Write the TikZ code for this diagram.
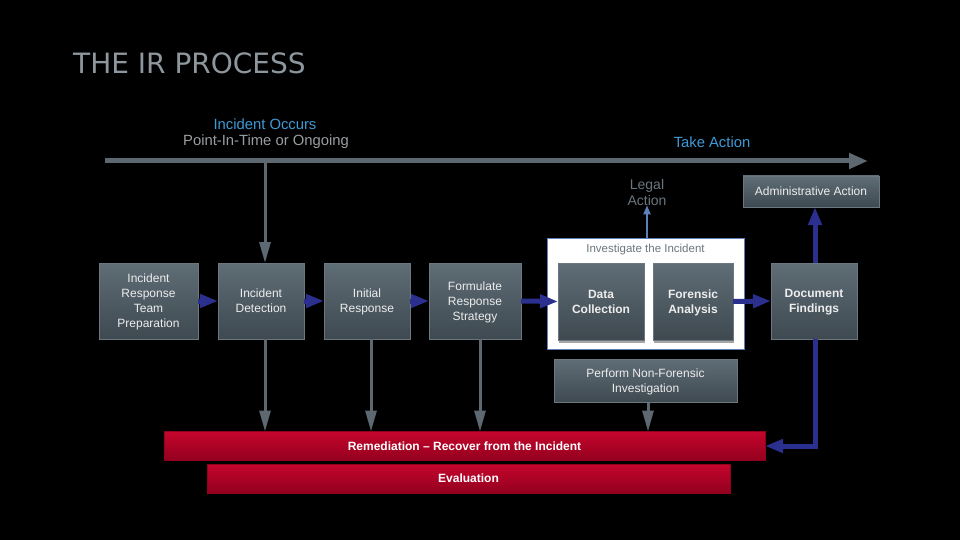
\documentclass[tikz,border=0pt]{standalone}
\usepackage{fontspec}
\setmainfont{Liberation Sans}
\newfontfamily\titlefont{DejaVu Sans}
\usetikzlibrary{arrows.meta,shadows}
\definecolor{boxtop}{HTML}{5F6D76}
\definecolor{boxbot}{HTML}{3E4950}
\definecolor{boxedge}{HTML}{6C7880}
\definecolor{greyline}{HTML}{5D6870}
\definecolor{navy}{HTML}{2B2F8E}
\definecolor{lightblue}{HTML}{5F7FBB}
\definecolor{skyblue}{HTML}{3E9AD6}
\definecolor{redtop}{HTML}{C5052C}
\definecolor{redbot}{HTML}{93001E}
\definecolor{titlegrey}{HTML}{8E979D}
\definecolor{midgrey}{HTML}{9A9EA1}
\definecolor{dimgrey}{HTML}{6B767E}
\tikzset{
  procbox/.style={rectangle, draw=boxedge, line width=0.6pt, top color=boxtop, bottom color=boxbot,
    text=white!93!black, inner sep=0pt, outer sep=0pt, align=center, text depth=-6.5pt,
    font=\fontsize{12}{15}\selectfont},
  boldbox/.style={procbox, font=\fontsize{12}{15}\selectfont\bfseries, text depth=-4.5pt},
  redbar/.style={rectangle, draw=redbot, line width=0.5pt, top color=redtop, bottom color=redbot,
    text=white, inner sep=0pt, outer sep=0pt, text depth=-1pt, font=\fontsize{12}{15}\selectfont\bfseries},
  greyarrow/.style={draw=greyline, line width=3pt, -{Triangle[length=21pt,width=11pt]}},
  bluearrow/.style={draw=navy, line width=5pt, -{Triangle[length=18pt,width=13pt]}},
  toplabel/.style={inner sep=0pt, font=\fontsize{14.8}{17}\selectfont},
}
\begin{document}
\begin{tikzpicture}[x=1pt,y=-1pt]
\fill[black] (0,0) rectangle (960,540);
\useasboundingbox (0,0) rectangle (960,540);

% title
\node[anchor=base west, inner sep=0pt, text=titlegrey, font=\titlefont\fontsize{28}{30}\selectfont] (title) at (73,74) {THE IR PROCESS};

% timeline
\coordinate (tl0) at (105,161);
\coordinate (tl1) at (868,161);
\coordinate (tlD) at (265,161);
\draw[draw=greyline, line width=5pt, -{Triangle[length=19pt,width=15pt]}] (tl0) -- (tl1);

\node[toplabel, text=skyblue] (occurs) at (265,124) {Incident Occurs};
\node[toplabel, text=midgrey] (point) at (266,142) {Point-In-Time or Ongoing};
\node[toplabel, text=skyblue] (take) at (712,142) {Take Action};

% main row
\node[procbox, minimum width=99pt, minimum height=76pt] (prep) at (148.5,301) {Incident\\Response\\Team\\Preparation};
\node[procbox, minimum width=86pt, minimum height=76pt] (detect) at (261,301) {Incident\\Detection};
\node[procbox, minimum width=86pt, minimum height=76pt] (initial) at (367,301) {Initial\\Response};
\node[procbox, minimum width=92pt, minimum height=76pt] (strategy) at (475,301) {Formulate\\Response\\Strategy};

% investigate container
\node[rectangle, draw=lightblue, fill=white, line width=0.8pt, minimum width=197pt, minimum height=111pt, inner sep=0pt] (invest) at (645.5,293.5) {};
\node[text=dimgrey, font=\fontsize{11.5}{13}\selectfont, inner sep=0pt] (investlbl) at (645.5,249.5) {Investigate the Incident};
\node[boldbox, minimum width=86pt, minimum height=77pt, drop shadow={shadow xshift=1pt, shadow yshift=-2.5pt, fill=black!35, opacity=1}] (collect) at (601,301.5) {Data\\Collection};
\node[boldbox, minimum width=80pt, minimum height=77pt, drop shadow={shadow xshift=1pt, shadow yshift=-2.5pt, fill=black!35, opacity=1}] (forensic) at (693,301.5) {Forensic\\Analysis};

\node[boldbox, minimum width=86pt, minimum height=76pt] (findings) at (814,301) {Document\\Findings};

% actions
\node[procbox, minimum width=136pt, minimum height=31pt, text depth=-1pt] (admin) at (811,191.5) {Administrative Action};
\node[text=dimgrey, align=center, font=\fontsize{14}{16}\selectfont, inner sep=0pt] (legal) at (647,192) {Legal\\Action};

% non-forensic
\node[procbox, minimum width=183pt, minimum height=43pt] (nonfor) at (645.5,381) {Perform Non-Forensic\\Investigation};

% red bars
\node[redbar, minimum width=601pt, minimum height=29pt] (remed) at (464.5,446) {Remediation -- Recover from the Incident};
\node[redbar, minimum width=523pt, minimum height=29pt] (evalu) at (468.5,478.5) {Evaluation};

% grey arrows
\draw[greyarrow] (tlD) -- (tlD |- detect.north);
\draw[greyarrow] ([xshift=4pt]detect.south) -- ([xshift=4pt]detect.south |- remed.north);
\draw[greyarrow] ([xshift=4pt]initial.south) -- ([xshift=4pt]initial.south |- remed.north);
\draw[greyarrow] ([xshift=5pt]strategy.south) -- ([xshift=5pt]strategy.south |- remed.north);
\draw[greyarrow] ([xshift=2.5pt]nonfor.south) -- ([xshift=2.5pt]nonfor.south |- remed.north);

% blue arrows
\draw[bluearrow] (prep.east) -- (detect.west);
\draw[bluearrow] (detect.east) -- (initial.west);
\draw[bluearrow] (initial.east) -- (strategy.west);
\draw[bluearrow] (strategy.east) -- (collect.west);
\draw[bluearrow] (forensic.east) -- (findings.west);
\draw[bluearrow] ([xshift=1pt]findings.north) -- ([xshift=1pt]findings.north |- admin.south);
\draw[bluearrow] ([xshift=1pt]findings.south) |- (remed.east);
\draw[draw=lightblue, line width=1.8pt, -{Triangle[length=9pt,width=7pt]}] (invest.north -| legal) -- (legal.south);
\end{tikzpicture}
\end{document}
